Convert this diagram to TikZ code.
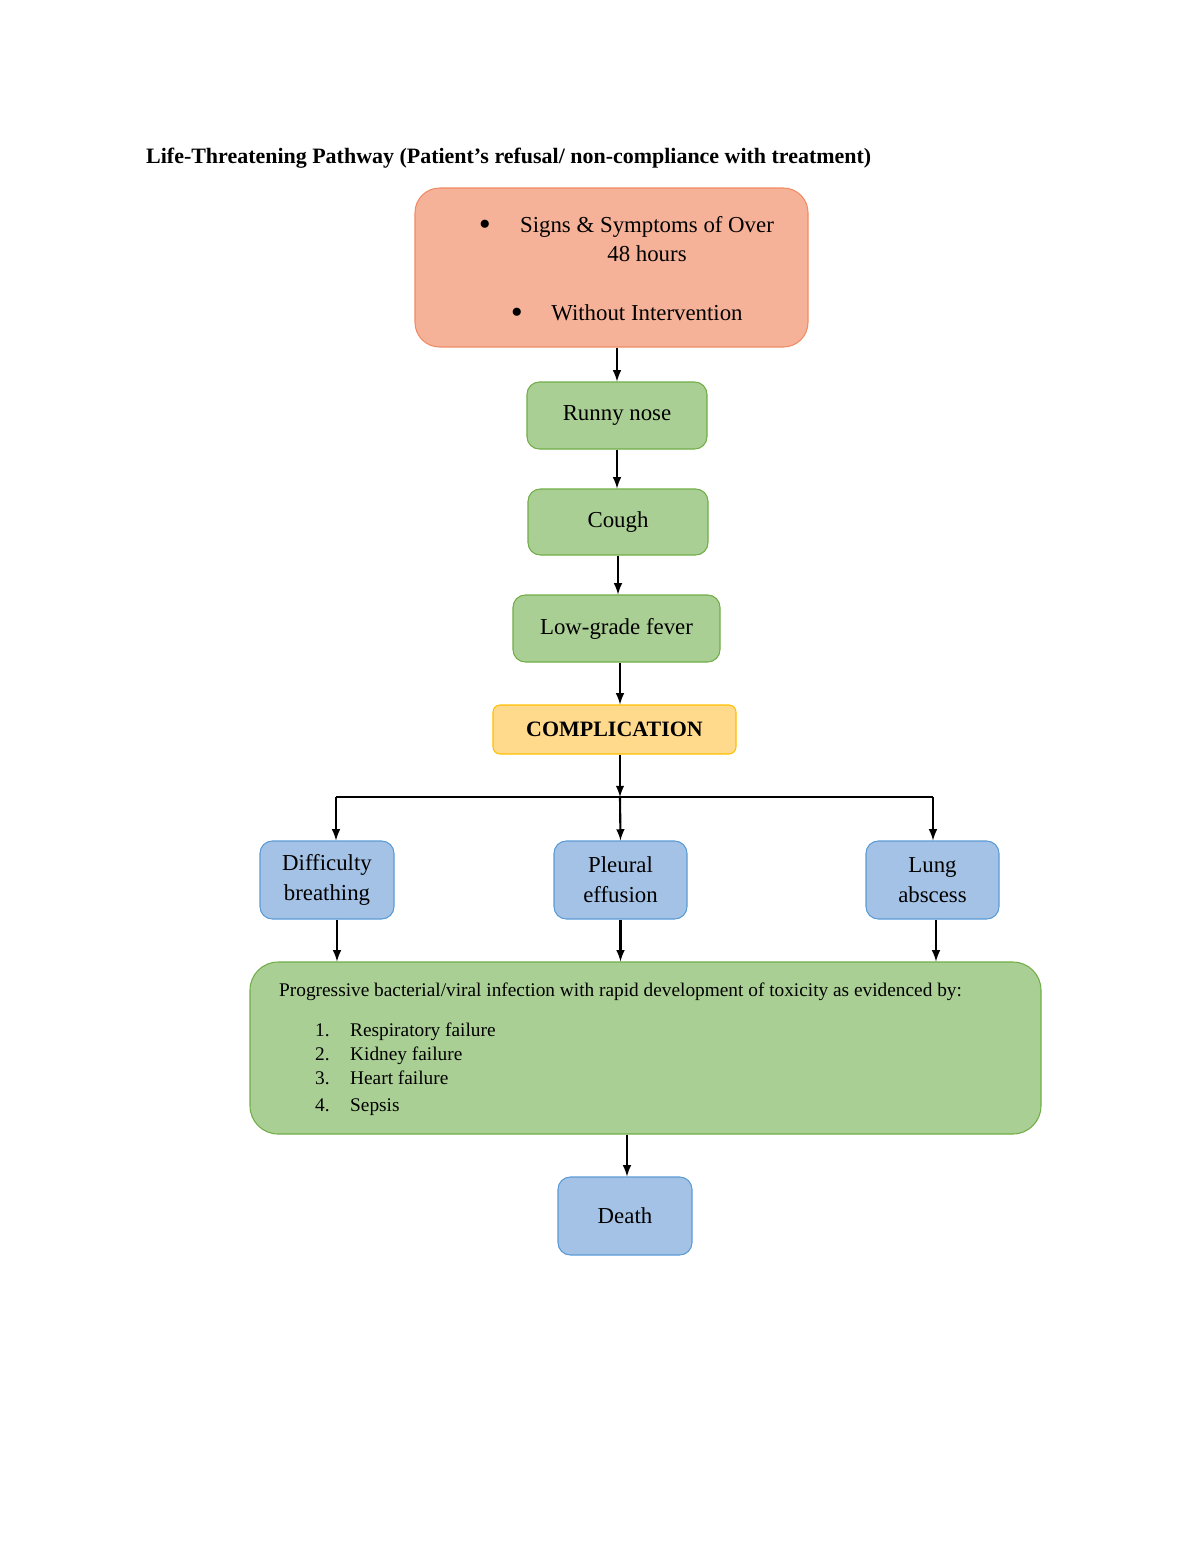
\documentclass[tikz,border=0pt]{standalone}
\usepackage{fontspec}
\setmainfont{Liberation Serif}
\begin{document}
\begin{tikzpicture}[x=0.02cm,y=-0.02cm,
 box/.style={draw, rounded corners=7pt, line width=0.6pt, align=center, inner sep=0pt, font=\fontsize{13}{17}\selectfont},
 grn/.style={box, fill={rgb,255:red,170;green,207;blue,148}, draw={rgb,255:red,112;green,173;blue,71}},
 blu/.style={box, fill={rgb,255:red,164;green,194;blue,230}, draw={rgb,255:red,91;green,155;blue,213}},
 arr/.style={-latex, line width=1.2pt}]
\useasboundingbox (0,0) rectangle (1200,1553);
\node[anchor=base west, font=\fontsize{12.5}{15}\bfseries] (title) at (140,163) {Life-Threatening Pathway (Patient’s refusal/ non-compliance with treatment)};
\node[box, rounded corners=14pt, fill={rgb,255:red,245;green,178;blue,152}, draw={rgb,255:red,240;green,140;blue,100}, minimum width=393*0.02cm, minimum height=159*0.02cm] (top) at (611.5,267.5) {};
\node[font=\fontsize{13}{17}\selectfont] at (485,225) {$\bullet$};
\node[font=\fontsize{13}{17}\selectfont, align=center] (t1) at (647,239) {Signs \& Symptoms of Over\\48 hours};
\node[font=\fontsize{13}{17}\selectfont] at (517,313) {$\bullet$};
\node[font=\fontsize{13}{17}\selectfont] (t2) at (647,313) {Without Intervention};
\node[grn, minimum width=180*0.02cm, minimum height=67*0.02cm] (run) at (617,415.5) {Runny nose};
\node[grn, minimum width=180*0.02cm, minimum height=66*0.02cm] (cou) at (618,522) {Cough};
\node[grn, minimum width=207*0.02cm, minimum height=67*0.02cm] (low) at (616.5,628.5) {Low-grade fever};
\node[box, rounded corners=4pt, fill={rgb,255:red,255;green,217;blue,140}, draw={rgb,255:red,255;green,192;blue,0}, minimum width=243*0.02cm, minimum height=49*0.02cm, font=\fontsize{12.5}{15}\bfseries] (com) at (614.5,729.5) {COMPLICATION};
\node[blu, minimum width=134*0.02cm, minimum height=78*0.02cm] (dif) at (327,880) {Difficulty\\breathing};
\node[blu, minimum width=133*0.02cm, minimum height=78*0.02cm] (ple) at (620.5,880) {Pleural\\effusion};
\node[blu, minimum width=133*0.02cm, minimum height=78*0.02cm] (lun) at (932.5,880) {Lung\\abscess};
\node[grn, rounded corners=16pt, minimum width=791*0.02cm, minimum height=172*0.02cm] (big) at (645.5,1048) {};
\node[anchor=base west, font=\fontsize{11}{14}\selectfont] (bt) at (273,996) {Progressive bacterial/viral infection with rapid development of toxicity as evidenced by:};
\node[anchor=base west, font=\fontsize{11}{14}\selectfont] at (309,1036) {1.};
\node[anchor=base west, font=\fontsize{11}{14}\selectfont] at (344,1036) {Respiratory failure};
\node[anchor=base west, font=\fontsize{11}{14}\selectfont] at (309,1060) {2.};
\node[anchor=base west, font=\fontsize{11}{14}\selectfont] at (344,1060) {Kidney failure};
\node[anchor=base west, font=\fontsize{11}{14}\selectfont] at (309,1084) {3.};
\node[anchor=base west, font=\fontsize{11}{14}\selectfont] at (344,1084) {Heart failure};
\node[anchor=base west, font=\fontsize{11}{14}\selectfont] at (309,1111) {4.};
\node[anchor=base west, font=\fontsize{11}{14}\selectfont] at (344,1111) {Sepsis};
\node[blu, minimum width=134*0.02cm, minimum height=78*0.02cm] (dea) at (625,1216) {Death};
\coordinate (j) at (620,797);
\coordinate (jl) at (336,797);
\coordinate (jr) at (933,797);
\draw[arr] (top.south -| run) -- (run.north);
\draw[arr] (run.south -| run) -- (cou.north -| run);
\draw[arr] (cou.south -| cou) -- (low.north -| cou);
\draw[arr] (low.south -| 620,0) -- (com.north -| 620,0);
\draw[arr] (com.south -| j) -- (j);
\draw[line width=1.2pt] (jl) -- (jr);
\draw[arr] (jl) -- (dif.north -| jl);
\draw[arr] (j) -- (ple.north);
\draw[arr] (jr) -- (lun.north -| jr);
\draw[arr] (dif.south -| 337,0) -- (big.north -| 337,0);
\draw[arr] (ple.south) -- (big.north -| ple);
\draw[arr] (lun.south -| 936,0) -- (big.north -| 936,0);
\draw[arr] (big.south -| 627,0) -- (dea.north -| 627,0);
\end{tikzpicture}
\end{document}
